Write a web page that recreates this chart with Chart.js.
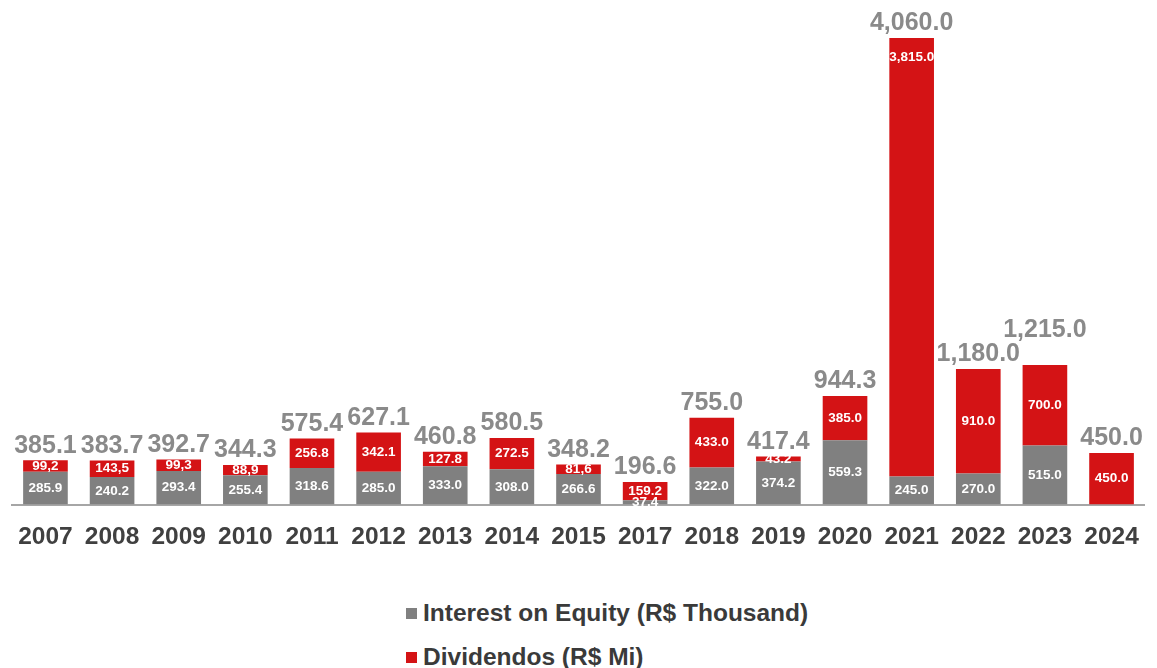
<!DOCTYPE html>
<html>
<head>
<meta charset="utf-8">
<script src="https://cdn.jsdelivr.net/npm/chart.js@4"></script>
<style>
  body { margin: 0; background: #fff; font-family: "Liberation Sans", Arial, sans-serif; }
  #wrap { position: relative; width: 1157px; height: 668px; overflow: hidden; }
  #chart { position: absolute; left: 0; top: 0; }
  .legend { position: absolute; left: 406px; font-weight: bold; font-size: 24.5px; color: #3a3a3a; white-space: nowrap; }
  .legend span { display: inline-block; width: 11px; height: 11px; margin-right: 6px; vertical-align: 2px; }
</style>
</head>
<body>
<div id="wrap">
  <canvas id="chart" width="1157" height="581"></canvas>
  <div class="legend" style="top:599px"><span style="background:#808080"></span>Interest on Equity (R$ Thousand)</div>
  <div class="legend" style="top:643px"><span style="background:#d41315"></span>Dividendos (R$ Mi)</div>
</div>
<script>
const years = ['2007', '2008', '2009', '2010', '2011', '2012', '2013', '2014', '2015', '2017', '2018', '2019', '2020', '2021', '2022', '2023', '2024'];
const interest = [285.9, 240.2, 293.4, 255.4, 318.6, 285.0, 333.0, 308.0, 266.6, 37.4, 322.0, 374.2, 559.3, 245.0, 270.0, 515.0, 0];
const dividends = [99.2, 143.5, 99.3, 88.9, 256.8, 342.1, 127.8, 272.5, 81.6, 159.2, 433.0, 43.2, 385.0, 3815.0, 910.0, 700.0, 450.0];
// years whose dividend label is written with a decimal comma in the original
const commaYears = ['2007', '2008', '2009', '2010', '2015'];

const GREY = '#808080';
const RED = '#d41315';

function fmt(v) {
    return v.toLocaleString('en-US', { minimumFractionDigits: 1, maximumFractionDigits: 1 });
}

const labelPlugin = {
    id: 'barLabels',
    afterDatasetsDraw(chart) {
        const ctx = chart.ctx;
        ctx.save();
        ctx.textAlign = 'center';
        ctx.textBaseline = 'middle';
        ctx.fillStyle = '#fff';
        ctx.font = 'bold 13.5px "Liberation Sans", Arial, sans-serif';
        chart.data.datasets.forEach((ds, di) => {
            const meta = chart.getDatasetMeta(di);
            meta.data.forEach((bar, i) => {
                const v = ds.data[i];
                if (!v) return;
                let txt = fmt(v);
                if (di === 1 && commaYears.includes(years[i])) txt = txt.replace('.', ',');
                const h = bar.base - bar.y;
                const y = h > 250 ? bar.y + 19 : (bar.y + bar.base) / 2;
                ctx.fillText(txt, bar.x, y);
            });
        });
        // totals, lifted when they would collide with the previous one
        const top = chart.getDatasetMeta(1).data;
        ctx.fillStyle = '#8a8a8a';
        ctx.textBaseline = 'bottom';
        ctx.font = 'bold 25px "Liberation Sans", Arial, sans-serif';
        let prev = null;
        years.forEach((yr, i) => {
            const txt = fmt(Math.round((interest[i] + dividends[i]) * 10) / 10);
            const w = ctx.measureText(txt).width;
            let y = top[i].y - 2;
            if (prev && top[i].x - w / 2 < prev.right && Math.abs(y - prev.y) < 24) {
                y = prev.y - 24;
            }
            ctx.fillText(txt, top[i].x, y);
            prev = { right: top[i].x + w / 2, y: y };
        });
        ctx.restore();
    }
};

new Chart(document.getElementById('chart'), {
    type: 'bar',
    data: {
        labels: years,
        datasets: [
            { label: 'Interest on Equity (R$ Thousand)', data: interest, backgroundColor: GREY },
            { label: 'Dividendos (R$ Mi)', data: dividends, backgroundColor: RED }
        ]
    },
    options: {
        responsive: false,
        animation: false,
        layout: { padding: { left: 8, right: 11, top: 0, bottom: 11 } },
        datasets: { bar: { categoryPercentage: 1, barPercentage: 0.67 } },
        plugins: {
            legend: { display: false },
            tooltip: { enabled: false }
        },
        scales: {
            x: {
                stacked: true,
                grid: { display: false, drawTicks: false },
                border: { display: true, color: '#a6a6a6', width: 2 },
                ticks: {
                    padding: 18,
                    color: '#404040',
                    font: { family: '"Liberation Sans", Arial, sans-serif', size: 24.5, weight: 'bold' }
                }
            },
            y: {
                stacked: true,
                display: false,
                min: 0,
                max: 4390
            }
        }
    },
    plugins: [labelPlugin]
});
</script>
</body>
</html>
